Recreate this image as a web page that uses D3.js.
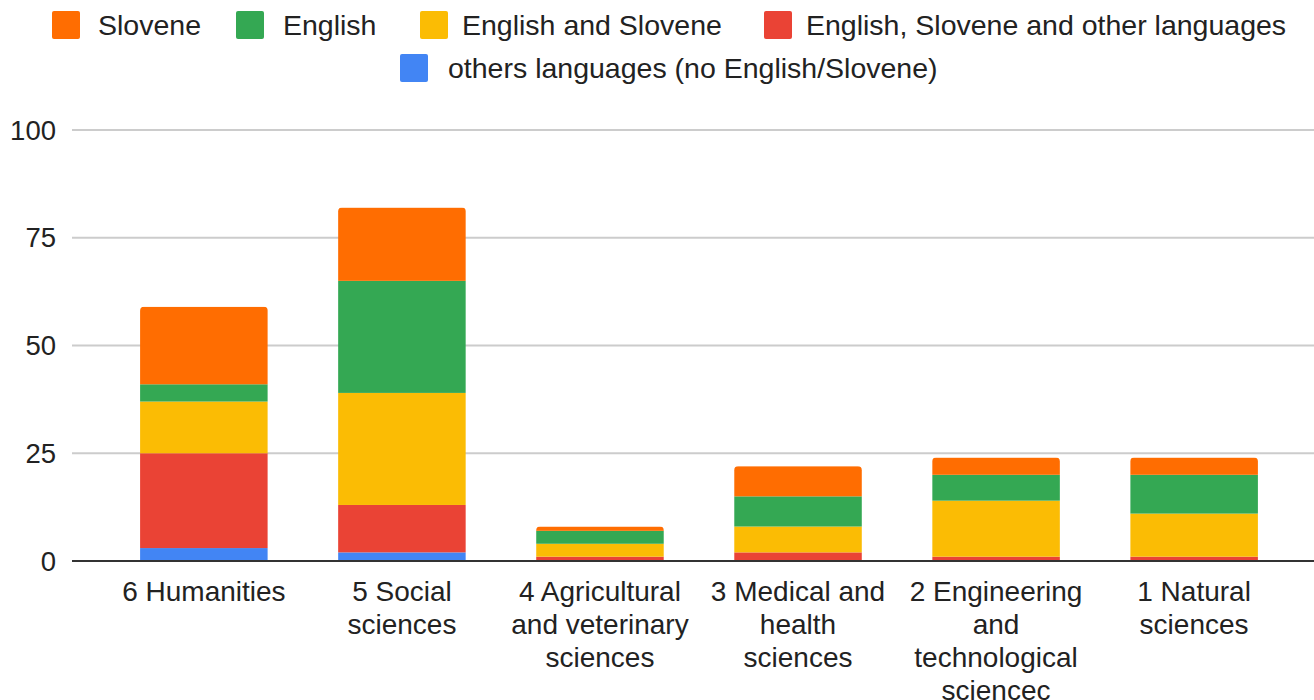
<!DOCTYPE html>
<meta charset="utf-8">
<head>
  <title>Languages by field of science</title>
</head>
<style>
body { margin: 0; background: #fff; }
text { font-family: "Liberation Sans", Arial, sans-serif; fill: #222; }
</style>
<body>
  <svg width="1314" height="700"></svg>
  <script src="https://cdnjs.cloudflare.com/ajax/libs/d3/7.8.5/d3.min.js"></script>
  <script>
var width = 1314, height = 700

// categories along the x axis
var fields = ['6 Humanities', '5 Social sciences', '4 Agricultural and veterinary sciences',
  '3 Medical and health sciences', '2 Engineering and technological sciencec', '1 Natural sciences']

// series, bottom of the stack first
var seriesNames = ['others languages (no English/Slovene)', 'English, Slovene and other languages',
  'English and Slovene', 'English', 'Slovene']
var seriesColors = ['#4285f4', '#ea4335', '#fbbc04', '#34a853', '#ff6d01']

var others = [3, 2, 0, 0, 0, 0]
var engSloOther = [22, 11, 1, 2, 1, 1]
var engSlo = [12, 26, 3, 6, 13, 10]
var english = [4, 26, 3, 7, 6, 9]
var slovene = [18, 17, 1, 7, 4, 4]

var yTicks = [0, 25, 50, 75, 100]

// legend order as shown on top
var legendRows = [
  [{i: 4, x: 52}, {i: 3, x: 236}, {i: 2, x: 420}, {i: 1, x: 764}],
  [{i: 0, x: 400}]
]

var rows = fields.map(function(f, k) {
  return {field: f, s0: others[k], s1: engSloOther[k], s2: engSlo[k], s3: english[k], s4: slovene[k]}
})
var keys = ['s0', 's1', 's2', 's3', 's4']
var stacked = d3.stack().keys(keys)(rows)

var svg = d3.select('svg')

var x = d3.scaleBand().domain(fields).range([105, 1293]).paddingInner(0.355).paddingOuter(0.177)
var y = d3.scaleLinear().domain([0, 100]).range([561, 130])

// gridlines
svg.append('g').selectAll('line')
  .data(yTicks.filter(function(d) { return d > 0 }))
  .enter().append('line')
  .attr('x1', 72).attr('x2', 1314)
  .attr('y1', function(d) { return y(d) }).attr('y2', function(d) { return y(d) })
  .attr('stroke', '#cccccc').attr('stroke-width', 2)

// y labels
svg.append('g').selectAll('text')
  .data(yTicks)
  .enter().append('text')
  .attr('x', 56).attr('y', function(d) { return y(d) })
  .attr('text-anchor', 'end').attr('dy', '0.35em')
  .style('font-size', '27.5px')
  .text(function(d) { return d })

// clip each bar so its top corners are rounded
var defs = svg.append('defs')
fields.forEach(function(f, k) {
  var total = others[k] + engSloOther[k] + engSlo[k] + english[k] + slovene[k]
  defs.append('clipPath').attr('id', 'clip' + k)
    .append('rect')
    .attr('x', x(f)).attr('width', x.bandwidth())
    .attr('y', y(total)).attr('height', y(0) - y(total) + 10)
    .attr('rx', 4)
})

var layer = svg.append('g').selectAll('g')
  .data(stacked)
  .enter().append('g')
  .attr('fill', function(d, i) { return seriesColors[i] })

layer.selectAll('rect')
  .data(function(d) { return d })
  .enter().append('rect')
  .attr('clip-path', function(d, k) { return 'url(#clip' + k + ')' })
  .attr('x', function(d) { return x(d.data.field) })
  .attr('width', x.bandwidth())
  .attr('y', function(d) { return y(d[1]) })
  .attr('height', function(d) { return y(d[0]) - y(d[1]) })

// baseline
svg.append('line')
  .attr('x1', 72).attr('x2', 1314)
  .attr('y1', y(0)).attr('y2', y(0))
  .attr('stroke', '#333').attr('stroke-width', 2)

// x labels, wrapped
var xl = svg.append('g').selectAll('text')
  .data(fields)
  .enter().append('text')
  .attr('text-anchor', 'middle')
  .style('font-size', '28px')
  .attr('x', function(d) { return x(d) + x.bandwidth() / 2 })
  .attr('y', 591)

xl.each(function(d) {
  var t = d3.select(this), words = d.split(' '), line = []
  var cx = x(d) + x.bandwidth() / 2
  var tsp = t.append('tspan').attr('x', cx).attr('dy', '0.35em')
  words.forEach(function(w) {
    line.push(w)
    tsp.text(line.join(' '))
    if (tsp.node().getComputedTextLength() > 184 && line.length > 1) {
      line.pop()
      tsp.text(line.join(' '))
      line = [w]
      tsp = t.append('tspan').attr('x', cx).attr('dy', '33px').text(w)
    }
  })
})

// legend
legendRows.forEach(function(row, r) {
  var cy = r === 0 ? 25 : 68
  var g = svg.append('g').selectAll('g').data(row).enter().append('g')
  g.append('rect')
    .attr('x', function(d) { return d.x }).attr('y', cy - 14)
    .attr('width', 28).attr('height', 28).attr('rx', 2)
    .attr('fill', function(d) { return seriesColors[d.i] })
  g.append('text')
    .attr('x', function(d) { return d.x + (d.i === 0 ? 48 : (d.i === 4 ? 46 : 42 + (d.i === 3 ? 5 : 0))) })
    .attr('y', cy).attr('dy', '0.35em')
    .style('font-size', '28.5px')
    .text(function(d) { return seriesNames[d.i] })
})
  </script>
</body>
</html>
